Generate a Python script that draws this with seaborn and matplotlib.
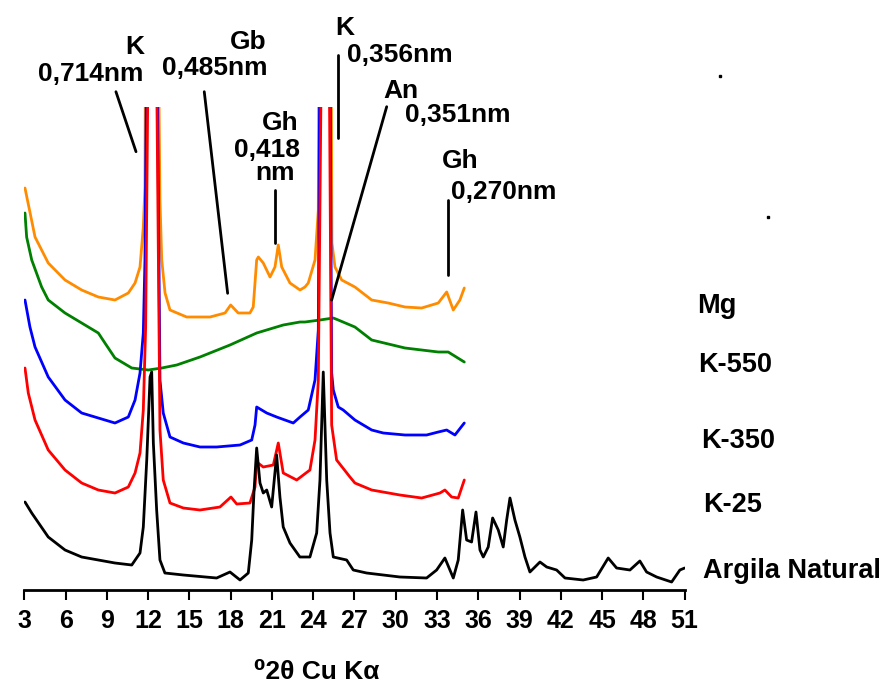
import numpy as np
import pandas as pd
import seaborn as sns
import matplotlib
matplotlib.use("Agg")
import matplotlib.pyplot as plt

#----------------------------------------------
# Diffractograms (2theta, a.u. incl. stacking offset)
#----------------------------------------------

mg_x = [3.05, 3.78, 4.74, 5.96, 7.17, 8.38, 9.59, 10.56, 11.05, 11.41, 11.65, 11.77, 11.80,
        12.30, 12.77, 12.86, 12.99, 13.23, 13.59, 14.80, 16.50, 17.59, 18.00, 18.55, 19.40,
        19.64, 19.89, 20.01, 20.37, 20.86, 21.22, 21.46, 21.71, 22.31, 23.04, 23.40, 23.64,
        24.13, 24.37, 24.40, 24.85, 25.31, 25.36, 25.58, 26.07, 27.03, 28.25, 29.45, 30.67,
        31.88, 33.09, 33.70, 34.18, 34.66, 34.98]
mg_y = [402, 353, 327, 310, 300, 293, 290, 297, 307, 323, 363, 403, 520,
        1200, 520, 390, 330, 297, 280, 273, 273, 277, 285, 277, 277,
        283, 330, 333, 327, 313, 323, 345, 323, 307, 300, 303, 307,
        330, 380, 520, 1200, 520, 347, 323, 310, 303, 290, 287, 283,
        282, 287, 298, 280, 290, 302]

k550_x = [3.05, 3.17, 3.54, 4.26, 4.74, 5.96, 7.17, 8.38, 8.86, 9.59, 10.81, 12.01, 12.99,
          14.08, 15.77, 17.95, 19.89, 21.82, 23.04, 23.40, 24.49, 25.46, 25.82, 27.03,
          28.25, 30.67, 33.09, 33.81, 34.98]
k550_y = [377, 353, 330, 303, 290, 277, 267, 257, 247, 232, 222, 220, 222,
          225, 233, 245, 257, 265, 268, 268, 270, 272, 270, 263,
          250, 242, 238, 238, 228]

k350_x = [3.05, 3.41, 3.78, 4.74, 5.96, 7.17, 8.38, 9.59, 10.56, 11.05, 11.41, 11.65, 11.77,
          11.88, 12.28, 12.67, 12.86, 13.10, 13.59, 14.56, 15.77, 16.98, 18.68, 19.53, 19.77,
          19.89, 20.62, 21.34, 22.55, 23.04, 23.64, 24.13, 24.37, 24.47, 24.86, 25.23, 25.34,
          25.46, 25.82, 26.18, 27.03, 28.25, 29.09, 30.67, 32.24, 33.09, 33.70, 34.30, 34.98]
k350_y = [290, 263, 243, 213, 190, 177, 172, 167, 173, 190, 217, 257, 330,
          520, 1200, 520, 210, 177, 153, 147, 143, 143, 145, 150, 165,
          183, 177, 173, 167, 173, 180, 210, 260, 520, 1200, 520, 217,
          200, 183, 180, 170, 160, 157, 155, 155, 158, 160, 155, 167]

k25_x = [3.05, 3.29, 3.78, 4.74, 5.96, 7.17, 8.38, 9.59, 10.56, 11.05, 11.41, 11.65, 11.82,
         11.99, 12.31, 12.62, 12.86, 13.10, 13.59, 14.56, 15.77, 17.22, 18.02, 18.44, 19.40,
         19.77, 19.89, 20.37, 21.10, 21.46, 21.82, 22.80, 23.76, 24.13, 24.37, 24.58, 24.88,
         25.17, 25.34, 25.70, 26.67, 27.03, 28.25, 30.30, 31.88, 33.21, 33.57, 34.06, 34.54,
         34.98]
k25_y = [222, 197, 170, 140, 120, 107, 100, 97, 103, 117, 137, 180, 263,
         520, 1200, 520, 160, 110, 87, 82, 80, 83, 93, 86, 87,
         103, 128, 123, 125, 147, 117, 110, 120, 150, 210, 520, 1200,
         520, 165, 130, 113, 107, 100, 95, 92, 97, 100, 93, 92,
         110]

nat_x = [3.05, 3.54, 4.74, 5.96, 7.17, 8.38, 9.59, 10.81, 11.41, 11.65, 11.90, 12.14, 12.26,
         12.38, 12.62, 12.86, 13.22, 14.56, 16.98, 17.95, 18.68, 19.28, 19.53, 19.69, 19.89,
         20.13, 20.37, 20.62, 20.98, 21.34, 21.58, 21.82, 22.31, 23.03, 23.76, 24.25, 24.49,
         24.73, 24.98, 25.22, 25.46, 26.43, 26.91, 27.88, 30.30, 32.24, 32.97, 33.57, 34.18,
         34.54, 34.86, 35.15, 35.51, 35.83, 36.12, 36.36, 36.72, 37.04, 37.45, 37.81, 38.06,
         38.30, 38.66, 39.02, 39.39, 39.75, 40.48, 40.97, 41.69, 42.30, 43.62, 44.60, 45.44,
         46.05, 47.02, 47.74, 48.23, 48.96, 50.05, 50.65, 51.00]
nat_y = [88, 77, 53, 40, 33, 30, 27, 25, 37, 63, 130, 213, 218,
         147, 80, 30, 17, 15, 12, 18, 10, 17, 50, 97, 142,
         107, 97, 100, 83, 135, 93, 63, 47, 33, 33, 57, 110,
         218, 110, 57, 33, 30, 20, 17, 13, 12, 20, 32, 12,
         30, 80, 50, 48, 78, 40, 33, 43, 72, 60, 43, 70,
         92, 70, 53, 33, 18, 28, 23, 20, 12, 10, 13, 32,
         22, 20, 29, 18, 13, 8, 20, 22]

samples = ['Mg', 'K-550', 'K-350', 'K-25', 'Argila Natural']
colors = ['#FF8C00', '#008000', '#0000FF', '#FF0000', '#000000']
# label anchor (2theta, a.u.) for the sample names on the right
label_x = [51.87, 51.96, 52.23, 52.32, 52.32]
label_y = [276.7, 218.3, 141.7, 78.3, 11.7]

# peak annotations: (text, x, y, ha)
peak_texts = [
    ('K', 11.71, 536, 'right'), ('0,714nm', 11.63, 509, 'right'),
    ('Gb', 20.64, 540.7, 'right'), ('0,485nm', 20.71, 515, 'right'),
    ('Gh', 21.58, 460, 'center'), ('0,418', 20.67, 433.3, 'center'), ('nm', 21.22, 410, 'center'),
    ('K', 25.58, 555, 'left'), ('0,356nm', 26.43, 527.7, 'left'),
    ('An', 29.07, 491.7, 'left'), ('0,351nm', 30.67, 468.3, 'left'),
    ('Gh', 33.33, 422, 'left'), ('0,270nm', 33.99, 391, 'left'),
]
# leader lines: (x0, y0, x1, y1)
leaders = [
    (9.66, 498.3, 11.12, 438.3),
    (16.08, 498.3, 17.78, 296.7),
    (21.24, 400, 21.24, 346.7),
    (25.78, 535, 25.78, 451.7),
    (29.34, 483.3, 25.34, 290),
    (33.81, 390, 33.81, 315),
]

#----------------------
# Long table for seaborn
#----------------------

xs = [mg_x, k550_x, k350_x, k25_x, nat_x]
ys = [mg_y, k550_y, k350_y, k25_y, nat_y]
df = pd.concat([pd.DataFrame({'2theta': x, 'I': y, 'sample': s})
                for x, y, s in zip(xs, ys, samples)], ignore_index=True)

#-----------
# Plot
#-----------

sns.set_style('white')
plt.rcParams['font.family'] = ['Liberation Sans', 'DejaVu Sans']
plt.rcParams['font.weight'] = 'bold'
plt.rcParams['text.color'] = 'black'
plt.rcParams['xtick.color'] = 'black'
plt.rcParams['xtick.labelcolor'] = 'black'
plt.rcParams['axes.edgecolor'] = 'black'

fig = plt.figure(figsize=(8.88, 6.87), dpi=100)
ax = fig.add_axes([0.02736, 0.14119, 0.7437, 0.70306])

sns.lineplot(data=df, x='2theta', y='I', hue='sample', hue_order=samples,
             palette=dict(zip(samples, colors)), estimator=None, sort=False,
             linewidth=2.0, legend=False, ax=ax)

ax.set_xlim(3, 51)
ax.set_ylim(0, 483)
ax.set_xticks(range(3, 52, 3))
ax.set_yticks([])
ax.set_xlabel('')
ax.set_ylabel('')
for side in ['left', 'right', 'top']:
    ax.spines[side].set_visible(False)
ax.spines['bottom'].set_linewidth(2)
ax.spines['bottom'].set_color('black')
ax.tick_params(axis='x', direction='out', length=7.5, width=1.5, pad=6,
               labelsize=18, bottom=True, colors='black')
for t in ax.get_xticklabels():
    t.set_fontweight('bold')

for s, c, lx, ly in zip(samples, colors, label_x, label_y):
    ax.text(lx, ly, s, fontsize=19.5, fontweight='bold', ha='left', va='baseline',
            color='black', clip_on=False)

for txt, tx, ty, ha in peak_texts:
    ax.text(tx, ty, txt, fontsize=19, fontweight='bold', ha=ha, va='baseline',
            color='black', clip_on=False)

for x0, y0, x1, y1 in leaders:
    ax.plot([x0, x1], [y0, y1], color='black', lw=2, clip_on=False)

fig.text(0.357, 0.0116, '\u20702\u03b8 Cu K\u03b1', fontsize=19, fontweight='bold',
         ha='center', va='baseline', color='black')

# two stray specks in the original
fig.lines.append(plt.Line2D([0.8108, 0.8652], [0.8894, 0.6837], transform=fig.transFigure,
                            linestyle='none', marker='s', markersize=1.8, color='black'))

plt.savefig('out.png', dpi=100)
